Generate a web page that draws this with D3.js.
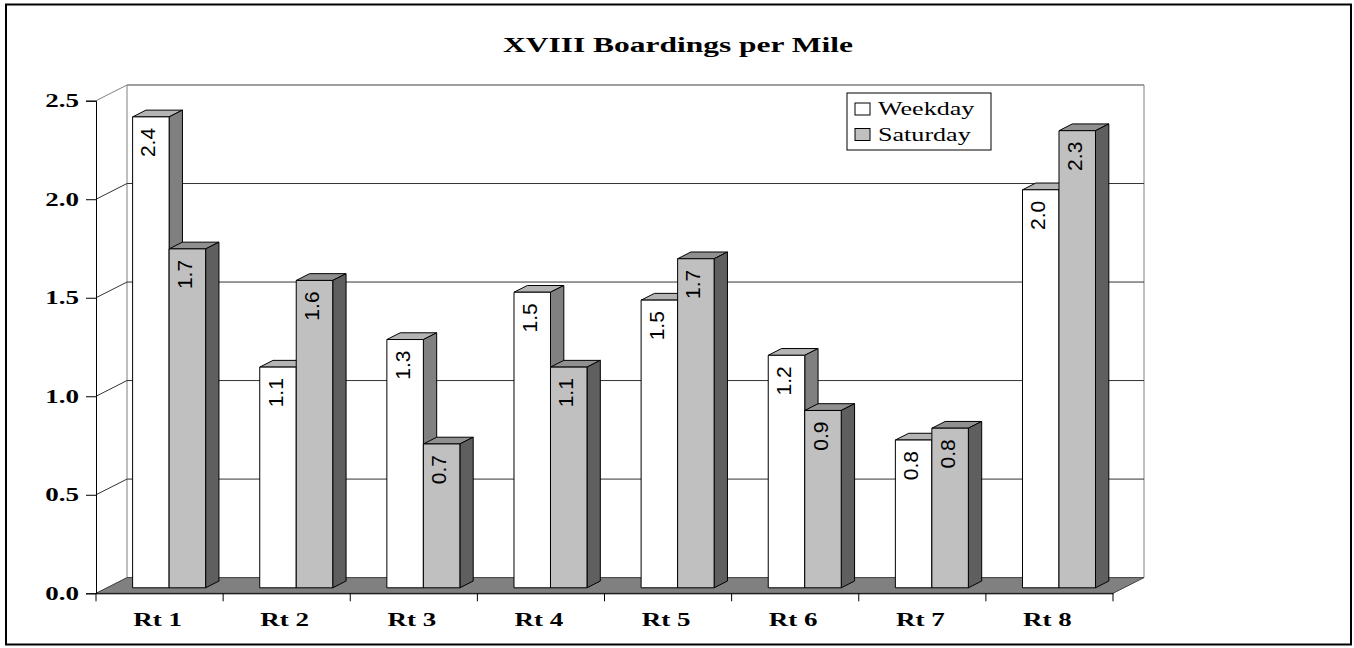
<!DOCTYPE html>
<html>
<head>
<meta charset="utf-8">
<script src="https://cdn.jsdelivr.net/npm/d3@7"></script>
<style>
  body { margin: 0; background: #fff; }
  svg { display: block; }
</style>
</head>
<body>
<div id="container"></div>
<script>
'use strict';

var categories = ['Rt 1', 'Rt 2', 'Rt 3', 'Rt 4', 'Rt 5', 'Rt 6', 'Rt 7', 'Rt 8'];
var seriesNames = ['Weekday', 'Saturday'];
var weekday = [2.39, 1.12, 1.26, 1.50, 1.46, 1.18, 0.75, 2.02];
var saturday = [1.72, 1.56, 0.73, 1.12, 1.67, 0.90, 0.81, 2.32];
var yTicks = [0, 0.5, 1.0, 1.5, 2.0, 2.5];

var W = 1354, H = 648;
var depth = {x: 31, y: -15.7};      // full floor depth
var barDepth = [0.35, 0.78];        // where bars sit inside the depth
var stretch = 1.5;                  // the old chart's text is drawn wide
var serif = '"Liberation Serif", "Times New Roman", serif'

var svg = d3.select('#container')
    .append('svg')
        .attr('width', W)
        .attr('height', H)

svg.append('rect')
    .attr('x', 6).attr('y', 4.5)
    .attr('width', 1345).attr('height', 640)
    .attr('fill', 'none')
    .attr('stroke', '#000')
    .attr('stroke-width', 2)

var x = d3.scaleBand().domain(categories).range([96, 1113]).padding(0)
var y = d3.scaleLinear().domain([0, 2.5]).range([593.3, 100.7])

var x0 = x.range()[0], x1 = x.range()[1]
var wallTop = y(2.5) + depth.y

// back wall and side wall
svg.append('path')
    .attr('d', 'M' + (x0 + depth.x) + ',' + (y(0) + depth.y) +
               'V' + wallTop + 'H' + (x1 + depth.x) + 'V' + (y(0) + depth.y))
    .attr('fill', 'none')
    .attr('stroke', '#808080')

var grid = svg.append('g').attr('class', 'grid')
grid.selectAll('path').data(yTicks.filter(function(t) { return t > 0 }))
    .enter().append('path')
        .attr('d', function(t) {
            return 'M' + x0 + ',' + y(t) +
                   'L' + (x0 + depth.x) + ',' + (y(t) + depth.y) +
                   'H' + (x1 + depth.x)
        })
        .attr('fill', 'none')
        .attr('stroke', function(t) { return t === 2.5 ? '#808080' : '#333' })
        .attr('stroke-width', 1)

// floor
svg.append('path')
    .attr('d', 'M' + x0 + ',' + y(0) + 'H' + x1 +
               'L' + (x1 + depth.x) + ',' + (y(0) + depth.y) +
               'H' + (x0 + depth.x) + 'Z')
    .attr('fill', '#808080')
    .attr('stroke', '#404040')
    .attr('stroke-width', 1)

// y axis
var yAxis = svg.append('g')
    .attr('transform', 'translate(' + x0 + ',0)')
    .call(d3.axisLeft(y).tickValues(yTicks).tickSize(10).tickPadding(0).tickFormat(d3.format('.1f')))
yAxis.select('.domain').attr('stroke', '#000')
yAxis.selectAll('.tick line').attr('stroke', '#000')
yAxis.selectAll('.tick text')
    .attr('x', null).attr('dy', null)
    .attr('transform', 'translate(-17,6) scale(' + stretch + ',1)')
    .attr('font-family', serif)
    .attr('font-weight', 'bold')
    .attr('font-size', 18)
    .attr('fill', '#000')

// x axis: line, boundary ticks, centered labels
var xAxis = svg.append('g')
    .attr('transform', 'translate(0,' + y(0) + ')')
    .call(d3.axisBottom(x).tickSize(0).tickPadding(0))
xAxis.select('.domain').attr('stroke', '#000')
xAxis.selectAll('.tick text')
    .attr('y', null).attr('dy', null)
    .attr('transform', 'translate(-2,33) scale(' + stretch + ',1)')
    .attr('font-family', serif)
    .attr('font-weight', 'bold')
    .attr('font-size', 18)
    .attr('fill', '#000')
xAxis.selectAll('line.bound')
    .data(categories.map(function(c) { return x(c) }).concat([x1]))
    .enter().append('line')
        .attr('class', 'bound')
        .attr('x1', function(d) { return d }).attr('x2', function(d) { return d })
        .attr('y1', 0).attr('y2', 8)
        .attr('stroke', '#000')

// bars
var bw = 36.5
var fo = {x: depth.x * barDepth[0], y: depth.y * barDepth[0]}
var bo = {x: depth.x * (barDepth[1] - barDepth[0]), y: depth.y * (barDepth[1] - barDepth[0])}
var faces = [
    {front: '#ffffff', top: '#b4b4b4', side: '#808080'},
    {front: '#c0c0c0', top: '#909090', side: '#5f5f5f'}
]

var bars = []
categories.forEach(function(c, i) {
    [weekday, saturday].forEach(function(vals, s) {
        bars.push({cat: c, s: s, v: vals[i]})
    })
})

var pt = function(a, b) { return a + ',' + b }

svg.selectAll('g.bar').data(bars)
    .enter().append('g')
        .attr('class', 'bar')
        .each(function(d) {
            var g = d3.select(this)
            var left = x(d.cat) + x.bandwidth() / 2 - bw - 1.3 + fo.x + d.s * bw
            var yt = y(d.v) + fo.y, yb = y(0) + fo.y
            var f = faces[d.s]
            g.append('polygon')
                .attr('points', [pt(left, yt), pt(left + bo.x, yt + bo.y),
                                 pt(left + bw + bo.x, yt + bo.y), pt(left + bw, yt)].join(' '))
                .attr('fill', f.top)
            g.append('polygon')
                .attr('points', [pt(left + bw, yt), pt(left + bw + bo.x, yt + bo.y),
                                 pt(left + bw + bo.x, yb + bo.y), pt(left + bw, yb)].join(' '))
                .attr('fill', f.side)
            g.append('rect')
                .attr('x', left).attr('y', yt)
                .attr('width', bw).attr('height', yb - yt)
                .attr('fill', f.front)
            g.selectAll('polygon, rect')
                .attr('stroke', '#000')
                .attr('stroke-width', 1)
                .attr('stroke-linejoin', 'round')
            g.append('text')
                .attr('transform', 'translate(' + (left + bw / 2) + ',' + (yt + 11) + ') rotate(-90)')
                .attr('text-anchor', 'end')
                .attr('dy', '0.22em')
                .attr('font-family', '"Liberation Sans", Arial, sans-serif')
                .attr('font-size', 21)
                .attr('fill', '#000')
                .text(d3.format('.1f')(d.v))
        })

// title
svg.append('text')
    .attr('transform', 'translate(678,52) scale(' + stretch + ',1)')
    .attr('text-anchor', 'middle')
    .attr('font-family', serif)
    .attr('font-weight', 'bold')
    .attr('font-size', 21)
    .text('XVIII Boardings per Mile')

// legend
var legend = svg.append('g').attr('transform', 'translate(847,93)')
legend.append('rect')
    .attr('width', 144).attr('height', 57)
    .attr('fill', '#fff')
    .attr('stroke', '#000')
var items = legend.selectAll('g.item').data(seriesNames)
    .enter().append('g')
        .attr('class', 'item')
        .attr('transform', function(d, i) { return 'translate(8,' + (10 + i * 25.5) + ')' })
items.append('rect')
    .attr('width', 15).attr('height', 12)
    .attr('fill', function(d, i) { return faces[i].front })
    .attr('stroke', '#000')
items.append('text')
    .attr('transform', 'translate(23,12) scale(1.45,1)')
    .attr('font-family', serif)
    .attr('font-size', 18)
    .text(function(d) { return d })
</script>
</body>
</html>
